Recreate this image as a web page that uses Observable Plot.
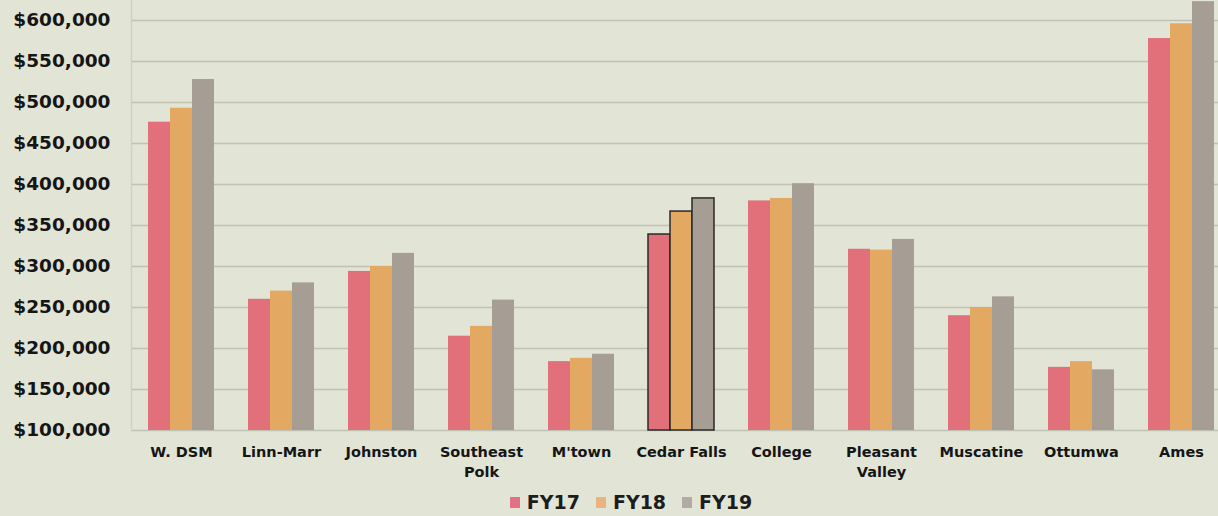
<!DOCTYPE html>
<html>
<head>
<meta charset="utf-8">
<script src="https://cdn.jsdelivr.net/npm/d3@7"></script>
<script src="https://cdn.jsdelivr.net/npm/@observablehq/plot@0.6"></script>
<style>
  html, body { margin: 0; padding: 0; background: #e2e4d5; overflow: hidden; }
  #chart svg { display: block; background: transparent; overflow: visible; }
  #legend { display: flex; justify-content: center; align-items: center; height: 28px;
    font-family: "DejaVu Sans", sans-serif; font-weight: bold; font-size: 19px; color: #1c1c1c;
    padding-left: 44px; }
  #legend .item { display: flex; align-items: center; margin: 0 8px; }
  #legend .sw { width: 10px; height: 11px; margin-right: 7px; }
</style>
</head>
<body>
<div id="chart"></div>
<div id="legend"></div>
<script>
const categories = ["W. DSM", "Linn-Marr", "Johnston", "Southeast\nPolk", "M'town", "Cedar Falls", "College", "Pleasant\nValley", "Muscatine", "Ottumwa", "Ames"];
const years = ["FY17", "FY18", "FY19"];
const fy17 = [476000, 260000, 294000, 215000, 184000, 339000, 380000, 321000, 240000, 177000, 578000];
const fy18 = [493000, 270000, 300000, 227000, 188000, 367000, 383000, 320000, 250000, 184000, 596000];
const fy19 = [528000, 280000, 316000, 259000, 193000, 383000, 401000, 333000, 263000, 174000, 623000];
const yTicks = [100000, 150000, 200000, 250000, 300000, 350000, 400000, 450000, 500000, 550000, 600000];
const highlighted = "Cedar Falls";
const colors = ["#e2707a", "#e3a862", "#a69e95"];
const legendColors = ["#e56f83", "#eab37f", "#b1aba3"];

const series = [fy17, fy18, fy19];
const rows = [];
years.forEach((yr, j) => categories.forEach((c, i) => rows.push({category: c, year: yr, value: series[j][i]})));

const base = yTicks[0];
const W = 1218, H = 488;
const barW = 22;

const marks = [
  Plot.ruleY(yTicks, {stroke: "#bfc1b2", strokeWidth: 1.6}),
  Plot.frame({anchor: "left", stroke: "#cfd1c3", strokeWidth: 1.5})
];
years.forEach((yr, j) => {
  marks.push(Plot.barY(rows.filter(d => d.year === yr), {
    x: "category", y1: () => base, y2: "value",
    fill: colors[j], insetLeft: barW, insetRight: barW, dx: (j - 1) * barW
  }));
  marks.push(Plot.barY(rows.filter(d => d.year === yr && d.category === highlighted), {
    x: "category", y1: () => base, y2: "value",
    fill: "none", stroke: "#2a2a2a", strokeWidth: 1.5, insetLeft: barW, insetRight: barW, dx: (j - 1) * barW
  }));
});
marks.push(Plot.axisY({ticks: yTicks, tickSize: 0, tickPadding: 21, label: null,
  tickFormat: d => "$" + d3.format(",")(d), fontSize: 18.5, fontWeight: "bold", fill: "#151515"}));
marks.push(Plot.axisX({tickSize: 0, tickPadding: 12, label: null, fontSize: 14.5, fontWeight: "bold",
  fill: "#151515", lineHeight: 1.4}));

const chart = Plot.plot({
  width: W, height: H,
  marginLeft: 131, marginRight: -13, marginTop: 0, marginBottom: H - 430,
  style: {fontFamily: "'DejaVu Sans', sans-serif", background: "transparent", overflow: "visible"},
  x: {type: "band", domain: categories, paddingInner: 0.34, paddingOuter: 0.17},
  y: {domain: [base, 624390]},
  marks
});
document.getElementById("chart").appendChild(chart);

const legend = document.getElementById("legend");
years.forEach((yr, j) => {
  const item = document.createElement("div");
  item.className = "item";
  const sw = document.createElement("span");
  sw.className = "sw";
  sw.style.background = legendColors[j];
  const t = document.createElement("span");
  t.textContent = yr;
  item.appendChild(sw); item.appendChild(t);
  legend.appendChild(item);
});
</script>
</body>
</html>
